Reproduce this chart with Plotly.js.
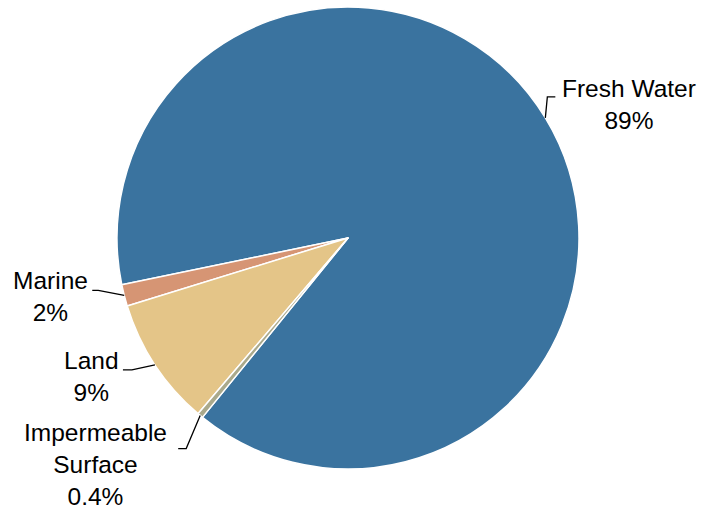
<!DOCTYPE html>
<html>
<head>
<meta charset="utf-8">
<script src="https://cdn.plot.ly/plotly-3.0.1.min.js"></script>
<style>html,body{margin:0;padding:0;background:#fff;}#chart{width:708px;height:512px;}</style>
</head>
<body>
<div id="chart"></div>
<script>
// ---- data ----
const categories = ['Fresh Water', 'Marine', 'Land', 'Impermeable Surface'];
const displayNames = ['Fresh Water', 'Marine', 'Land', 'Impermeable<br>Surface'];
const values = [89.1, 1.5, 9.0, 0.4];
const percentLabels = ['89%', '2%', '9%', '0.4%'];

// ---- style / layout ----
const sliceColors = ['#3a739f', '#d69574', '#e4c588', '#aaa98b'];
// label placement relative to each slice's outer mid point (pixels)
const labelLayout = [
  {elbow: [2, -21], stub: 8, text: [83.5, -13.5]},
  {elbow: [-26, -5], stub: -6, text: [-74, 1.5]},
  {elbow: [-23, 5], stub: -9, text: [-63.5, 12]},
  {elbow: [-14, 33], stub: -8, text: [-105, 49]}
];
const W = 708, H = 512;
const margin = {l: 20, r: 32, t: 7, b: 43};
const rotation = 258.3;
const fontFamily = 'Liberation Sans, Arial, sans-serif';
const fontSize = 24.5;

const plotW = W - margin.l - margin.r;
const plotH = H - margin.t - margin.b;
const cx = margin.l + plotW / 2;
const cy = margin.t + plotH / 2;
const R = Math.min(plotW, plotH) / 2;
const toPX = x => (x - margin.l) / plotW;
const toPY = y => 1 - (y - margin.t) / plotH;

// mid angle of each slice (counterclockwise, first slice starting at rotation)
const total = values.reduce((s, v) => s + v, 0);
const k = 360 / total;
let a = rotation + values[0] * k;
const mids = values.map(v => { const m = a - v * k / 2; a -= v * k; return m; });

const shapes = [];
const annotations = [];
mids.forEach((m, i) => {
  const rad = m * Math.PI / 180;
  const px = cx + R * Math.sin(rad);
  const py = cy - R * Math.cos(rad);
  const L = labelLayout[i];
  const ex = px + L.elbow[0], ey = py + L.elbow[1];
  const sx = ex + L.stub;
  shapes.push({
    type: 'path', xref: 'paper', yref: 'paper',
    path: 'M' + toPX(px) + ',' + toPY(py) + 'L' + toPX(ex) + ',' + toPY(ey) + 'L' + toPX(sx) + ',' + toPY(ey),
    line: {color: '#000000', width: 1.3}
  });
  annotations.push({
    xref: 'paper', yref: 'paper',
    x: toPX(px + L.text[0]), y: toPY(py + L.text[1]),
    xanchor: 'center', yanchor: 'middle', align: 'center',
    text: displayNames[i] + '<br>' + percentLabels[i],
    showarrow: false,
    font: {family: fontFamily, size: fontSize, color: '#000000'}
  });
});

Plotly.newPlot('chart', [{
  type: 'pie',
  labels: categories,
  values: values,
  sort: false,
  direction: 'counterclockwise',
  rotation: rotation,
  textinfo: 'none',
  marker: {colors: sliceColors, line: {color: '#ffffff', width: 1.5}},
  hoverinfo: 'none'
}], {
  width: W, height: H,
  margin: margin,
  showlegend: false,
  paper_bgcolor: '#ffffff',
  font: {family: fontFamily},
  shapes: shapes,
  annotations: annotations
}, {displayModeBar: false, staticPlot: true});
</script>
</body>
</html>
